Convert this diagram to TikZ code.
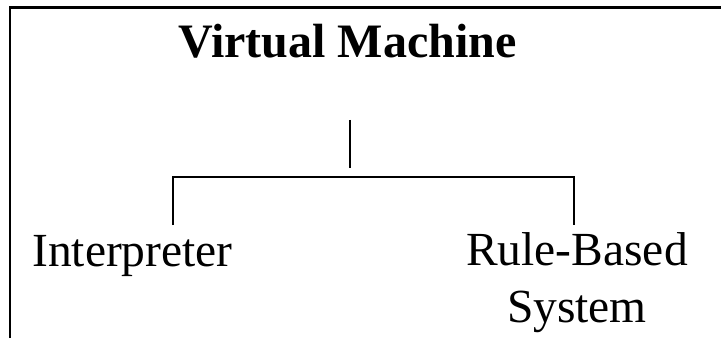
\documentclass[tikz,border=0pt]{standalone}
\usepackage{fontspec}
\setmainfont{Liberation Serif}
\begin{document}
\begin{tikzpicture}[x=1pt,y=1pt,
  frameline/.style={line width=2.2pt},
  treeline/.style={line width=1.3pt},
  label/.style={inner sep=0pt,font=\fontsize{47.5}{57}\selectfont,anchor=base},
  title/.style={label,font=\fontsize{48}{57}\selectfont\bfseries}]
\useasboundingbox (0,0) rectangle (721,338);
% outer frame (only the left and top sides are visible)
\draw[frameline] (10,0) -- (10,330.5) -- (721,330.5);

\node[title] (vm) at (347.5,280) {Virtual Machine};
\node[label] (interp) at (132.5,72) {Interpreter};
% base anchor of a multi-line node sits on its last line
\node[label,align=center] (rbs) at (577,15.5) {Rule-Based\\System};

% tree connectors
\coordinate (stubtop) at (350,218);
\coordinate (stubbot) at (350,170);
\coordinate (barl) at (173,161);
\coordinate (barr) at (574,161);
\coordinate (legl) at (173,113);
\coordinate (legr) at (574,113);
\draw[treeline] (stubtop) -- (stubbot);
\draw[treeline] (legl) -- (barl) -- (barr) -- (legr);
\end{tikzpicture}
\end{document}
